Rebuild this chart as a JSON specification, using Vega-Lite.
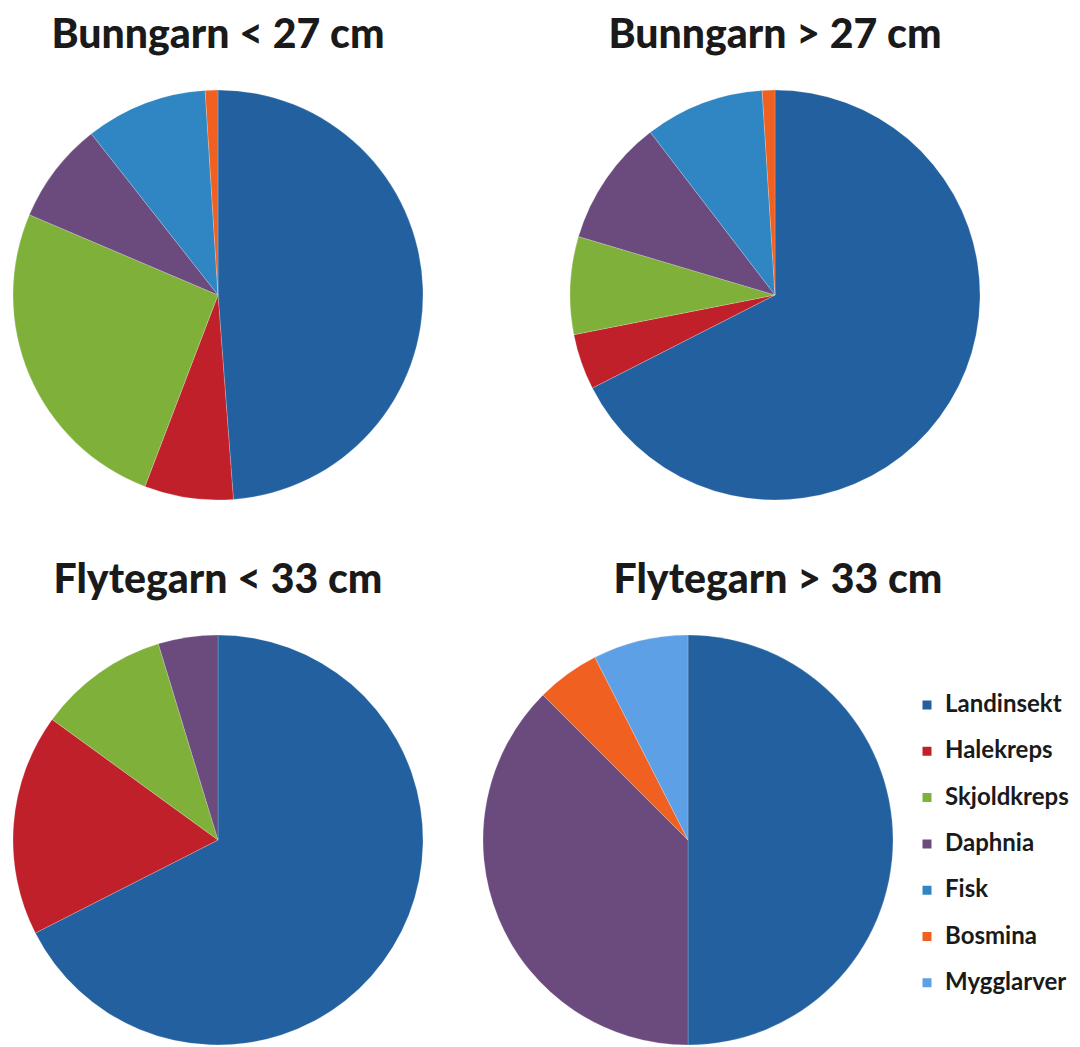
{
  "$schema": "https://vega.github.io/schema/vega-lite/v6.json",
  "background": "white",
  "padding": {"top": 15, "left": 8, "right": 0, "bottom": 0},
  "config": {
    "view": {"stroke": null},
    "title": {"font": "Lato", "fontSize": 41, "fontWeight": 900, "color": "#1a1a1a", "offset": 28, "anchor": "middle"},
    "legend": {"labelFont": "Lato", "labelFontSize": 24, "labelFontWeight": "bold", "labelColor": "#1a1a1a", "symbolType": "square", "symbolSize": 110, "rowPadding": 22.3, "labelOffset": 6}
  },
  "datasets": {
    "a": [
      {"kategori": "Landinsekt", "andel": 48.8, "rek": 1},
      {"kategori": "Halekreps", "andel": 7.0, "rek": 2},
      {"kategori": "Skjoldkreps", "andel": 25.6, "rek": 3},
      {"kategori": "Daphnia", "andel": 8.0, "rek": 4},
      {"kategori": "Fisk", "andel": 9.6, "rek": 5},
      {"kategori": "Bosmina", "andel": 1.0, "rek": 6}
    ],
    "b": [
      {"kategori": "Landinsekt", "andel": 67.5, "rek": 1},
      {"kategori": "Halekreps", "andel": 4.4, "rek": 2},
      {"kategori": "Skjoldkreps", "andel": 7.7, "rek": 3},
      {"kategori": "Daphnia", "andel": 10.0, "rek": 4},
      {"kategori": "Fisk", "andel": 9.4, "rek": 5},
      {"kategori": "Bosmina", "andel": 1.0, "rek": 6}
    ],
    "c": [
      {"kategori": "Landinsekt", "andel": 67.5, "rek": 1},
      {"kategori": "Halekreps", "andel": 17.5, "rek": 2},
      {"kategori": "Skjoldkreps", "andel": 10.3, "rek": 3},
      {"kategori": "Daphnia", "andel": 4.7, "rek": 4}
    ],
    "d": [
      {"kategori": "Landinsekt", "andel": 50.0, "rek": 1},
      {"kategori": "Daphnia", "andel": 37.5, "rek": 4},
      {"kategori": "Bosmina", "andel": 5.0, "rek": 6},
      {"kategori": "Mygglarver", "andel": 7.5, "rek": 7}
    ]
  },
  "vconcat": [
    {
      "hconcat": [
        {
          "title": "Bunngarn < 27 cm",
          "width": 420, "height": 420,
          "data": {"name": "a"},
          "mark": {"type": "arc", "outerRadius": 205, "stroke": "#ffffff", "strokeWidth": 0.5, "strokeOpacity": 0.4},
          "encoding": {
            "theta": {"field": "andel", "type": "quantitative", "stack": true},
            "order": {"field": "rek", "type": "quantitative"},
            "color": {"field": "kategori", "type": "nominal", "title": null,
              "scale": {"domain": ["Landinsekt", "Halekreps", "Skjoldkreps", "Daphnia", "Fisk", "Bosmina", "Mygglarver"],
                        "range": ["#22609f", "#c0202a", "#7fb13a", "#6b4a7e", "#2f86c2", "#f06020", "#5da0e6"]},
              "legend": {"orient": "none", "legendX": 907, "legendY": 608}}
          }
        },
        {
          "title": "Bunngarn > 27 cm",
          "width": 420, "height": 420,
          "data": {"name": "b"},
          "mark": {"type": "arc", "outerRadius": 205, "stroke": "#ffffff", "strokeWidth": 0.5, "strokeOpacity": 0.4},
          "encoding": {
            "theta": {"field": "andel", "type": "quantitative", "stack": true},
            "order": {"field": "rek", "type": "quantitative"},
            "color": {"field": "kategori", "type": "nominal"}
          }
        }
      ],
      "spacing": 137
    },
    {
      "hconcat": [
        {
          "title": "Flytegarn < 33 cm",
          "width": 420, "height": 420,
          "data": {"name": "c"},
          "mark": {"type": "arc", "outerRadius": 205, "stroke": "#ffffff", "strokeWidth": 0.5, "strokeOpacity": 0.4},
          "encoding": {
            "theta": {"field": "andel", "type": "quantitative", "stack": true},
            "order": {"field": "rek", "type": "quantitative"},
            "color": {"field": "kategori", "type": "nominal"}
          }
        },
        {
          "title": {"text": "Flytegarn > 33 cm", "dx": 90},
          "width": 420, "height": 420,
          "data": {"name": "d"},
          "mark": {"type": "arc", "outerRadius": 205, "stroke": "#ffffff", "strokeWidth": 0.5, "strokeOpacity": 0.4},
          "encoding": {
            "theta": {"field": "andel", "type": "quantitative", "stack": true},
            "order": {"field": "rek", "type": "quantitative"},
            "color": {"field": "kategori", "type": "nominal"}
          }
        }
      ],
      "spacing": 50
    }
  ],
  "spacing": 55
}
